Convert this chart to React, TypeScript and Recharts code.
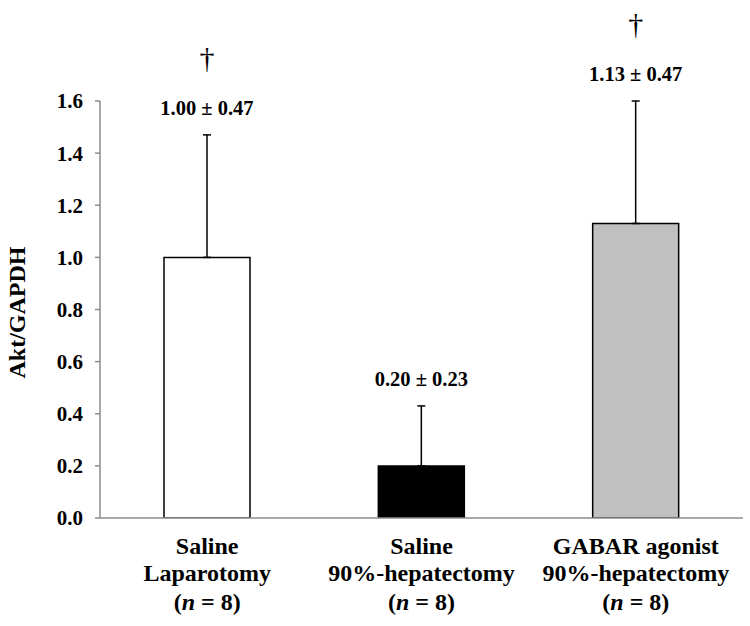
import React from "react";
import { BarChart, Bar, XAxis, YAxis, Cell, ErrorBar, LabelList } from "recharts";

const groupLine1 = ["Saline", "Saline", "GABAR agonist"];
const groupLine2 = ["Laparotomy", "90%-hepatectomy", "90%-hepatectomy"];
const groupN = [8, 8, 8];
const means = [1.0, 0.2, 1.13];
const sems = [0.47, 0.23, 0.47];
const fills = ["#ffffff", "#000000", "#c0c0c0"];
const significant = [true, false, true];
const yTicks = [0, 0.2, 0.4, 0.6, 0.8, 1.0, 1.2, 1.4, 1.6];

const data = groupLine1.map((g, i) => ({
  name: `${g} ${groupLine2[i]}`,
  mean: means[i],
  err: [0, sems[i]],
}));

const FONT = "'Liberation Serif', 'Times New Roman', serif";

const XTick = (props: any) => {
  const { x, y, index } = props;
  const i = index;
  return (
    <g>
      <text x={x} y={y + 36} textAnchor="middle" fontFamily={FONT} fontWeight="bold" fontSize={24} fill="#000">
        {groupLine1[i]}
      </text>
      <text x={x} y={y + 63} textAnchor="middle" fontFamily={FONT} fontWeight="bold" fontSize={24} fill="#000">
        {groupLine2[i]}
      </text>
      <text x={x} y={y + 92} textAnchor="middle" fontFamily={FONT} fontWeight="bold" fontSize={24} fill="#000">
        (<tspan fontStyle="italic">n</tspan> = {groupN[i]})
      </text>
    </g>
  );
};

const ValueLabel = (props: any) => {
  const { x, y, width, height, index } = props;
  const i = index;
  const m = means[i];
  const pxPerUnit = height / m;
  const base = y + height;
  const errTop = base - (m + sems[i]) * pxPerUnit;
  const cx = x + width / 2;
  const labelY = errTop - 20;
  return (
    <g>
      <text x={cx} y={labelY} textAnchor="middle" fontFamily={FONT} fontWeight="bold" fontSize={20.5} fill="#000">
        {`${m.toFixed(2)} ± ${sems[i].toFixed(2)}`}
      </text>
      {significant[i] && (
        <text x={cx} y={labelY - 47} textAnchor="middle" fontFamily={FONT} fontWeight="normal" fontSize={30} fill="#000">
          †
        </text>
      )}
    </g>
  );
};

const YLabel = (props: any) => {
  const vb = props.viewBox || { y: 101, height: 417 };
  const cy = vb.y + vb.height / 2 + 3;
  return (
    <text
      x={17}
      y={cy}
      transform={`rotate(-90, 17, ${cy})`}
      textAnchor="middle"
      dominantBaseline="central"
      fontFamily={FONT}
      fontWeight="bold"
      fontSize={24}
      fill="#000"
    >
      Akt/GAPDH
    </text>
  );
};

export default function App() {
  return (
    <div style={{ position: "absolute", left: 0, top: 0, background: "#fff" }}>
      <BarChart width={750} height={626} data={data} margin={{ top: 101, right: 7, bottom: 8, left: 0 }}>
        <XAxis
          dataKey="name"
          height={100}
          tickLine={false}
          tickSize={0}
          tickMargin={0}
          axisLine={{ stroke: "#8c8c8c", strokeWidth: 1.5 }}
          tick={<XTick />}
          interval={0}
        />
        <YAxis
          width={100}
          domain={[0, 1.6]}
          ticks={yTicks}
          tickFormatter={(v: number) => v.toFixed(1)}
          tickSize={5}
          tickMargin={12}
          axisLine={{ stroke: "#8c8c8c", strokeWidth: 1.5 }}
          tickLine={{ stroke: "#8c8c8c", strokeWidth: 1.5 }}
          tick={{ fontFamily: FONT, fontWeight: "bold", fontSize: 21, fill: "#000" }}
          label={<YLabel />}
          allowDataOverflow
        />
        <Bar dataKey="mean" barSize={86} stroke="#000" strokeWidth={1.5} isAnimationActive={false}>
          {data.map((d, i) => (
            <Cell key={d.name} fill={fills[i]} />
          ))}
          <ErrorBar dataKey="err" width={4} stroke="#000" strokeWidth={1.5} direction="y" />
          <LabelList dataKey="mean" content={<ValueLabel />} />
        </Bar>
      </BarChart>
    </div>
  );
}
